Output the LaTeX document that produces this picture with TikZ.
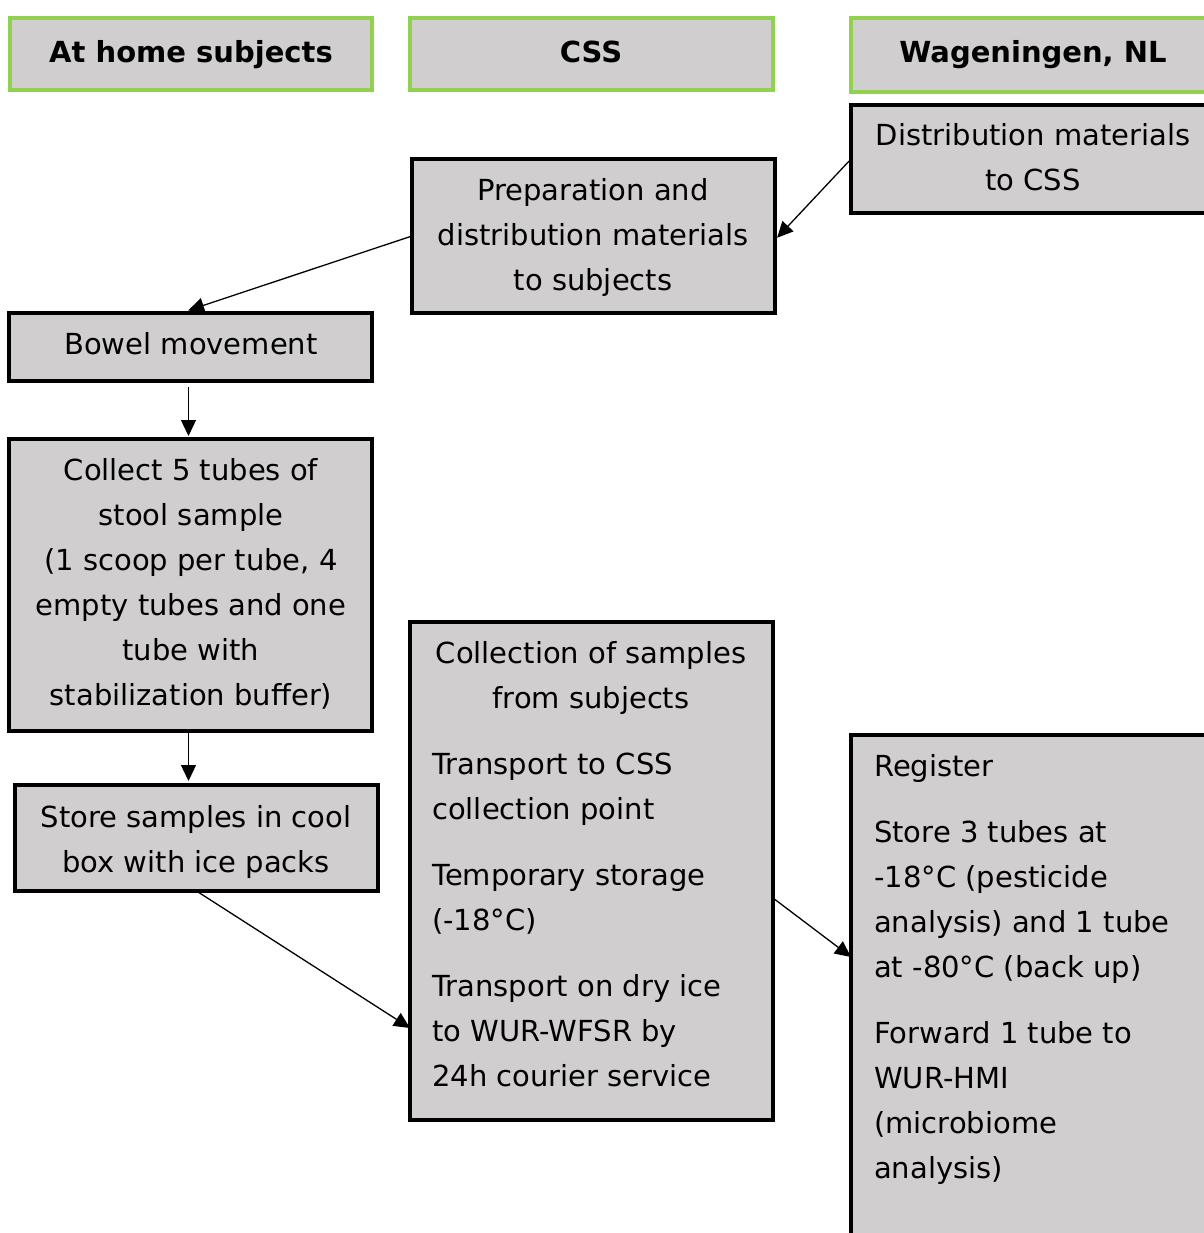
\documentclass[tikz,border=0pt]{standalone}
\usepackage{fontspec}
\setmainfont{DejaVu Sans}
\usetikzlibrary{arrows.meta}
\definecolor{boxgray}{HTML}{D0CECE}
\definecolor{headgreen}{HTML}{92D050}
\newcommand\firstline{\rule{0pt}{24pt}}
\tikzset{
  panel/.style={draw=black, line width=3.5pt, fill=boxgray, anchor=north west, inner sep=0pt, outer sep=0pt},
  header/.style={panel, draw=headgreen},
  txt/.style={inner sep=0pt, font=\fontsize{29}{45}\selectfont, align=center, anchor=north},
  ltxt/.style={txt, align=left, anchor=north west},
  htxt/.style={txt, font=\fontsize{29}{45}\selectfont\bfseries},
  flow/.style={line width=1.3pt, -{Triangle[length=16pt,width=15pt]}}
}
\begin{document}
\begin{tikzpicture}[x=1pt, y=-1pt]
\useasboundingbox (0,0) rectangle (1203,1233);

% column headers
\node[header, minimum width=362pt, minimum height=72pt] (hhome) at (10,18) {};
\node[header, minimum width=363pt, minimum height=72pt] (hcss) at (410,18) {};
\node[header, minimum width=370pt, minimum height=74pt] (hwag) at (851,18) {};
\node[htxt] (thome) at (191,62-24) {\firstline At home subjects};
\node[htxt] (tcss) at (591,62-24) {\firstline CSS};
\node[htxt] (twag) at (1033,62-24) {\firstline Wageningen, NL};

% process boxes
\node[panel, minimum width=370pt, minimum height=108pt] (dist) at (851,105) {};
\node[panel, minimum width=363pt, minimum height=154pt] (prep) at (412,159) {};
\node[panel, minimum width=363pt, minimum height=68pt] (bowel) at (9,313) {};
\node[panel, minimum width=363pt, minimum height=292pt] (collect) at (9,439) {};
\node[panel, minimum width=363pt, minimum height=106pt] (store) at (15,785) {};
\node[panel, minimum width=363pt, minimum height=498pt] (collection) at (410,622) {};
\node[panel, minimum width=370pt, minimum height=520pt] (register) at (851,735) {};

% box texts
\node[txt] (tdist) at (1033,145-24) {\firstline Distribution materials\\to CSS};
\node[txt] (tprep) at (593,200-24) {\firstline Preparation and\\distribution materials\\to subjects};
\node[txt] (tbowel) at (191,354-24) {\firstline Bowel movement};
\node[txt] (tcollect) at (191,480-24) {\firstline Collect 5 tubes of\\stool sample\\(1 scoop per tube, 4\\empty tubes and one\\tube with\\stabilization buffer)};
\node[txt] (tstore) at (196,827-24) {\firstline Store samples in cool\\box with ice packs};
\node[txt] (tcol1) at (591,663-24) {\firstline Collection of samples\\from subjects};
\node[ltxt] (tcol2) at (432,774-24) {\firstline Transport to CSS\\collection point};
\node[ltxt] (tcol3) at (432,885-24) {\firstline Temporary storage\\(-18°C)};
\node[ltxt] (tcol4) at (432,996-24) {\firstline Transport on dry ice\\to WUR-WFSR by\\24h courier service};
\node[ltxt] (treg1) at (874,776-24) {\firstline Register};
\node[ltxt] (treg2) at (874,842-24) {\firstline Store 3 tubes at\\-18°C (pesticide\\analysis) and 1 tube\\at -80°C (back up)};
\node[ltxt] (treg3) at (874,1043-24) {\firstline Forward 1 tube to\\WUR-HMI\\(microbiome\\analysis)};

% connectors
\draw[flow, shorten <=3pt, shorten >=3pt] (dist.west) -- ([yshift=-4pt]prep.east);
\draw[flow, shorten >=8pt] (prep.west) -- ([xshift=-10pt]bowel.north);
\draw[flow, shorten <=6pt, shorten >=3pt] ([xshift=-2pt]bowel.south) -- ([xshift=-2pt]collect.north);
\draw[flow, shorten <=2pt, shorten >=4pt] ([xshift=-2pt]collect.south) -- ([xshift=-2pt]collect.south |- store.north);
\draw[flow, shorten <=2pt] (store.south) -- ([yshift=-406pt]collection.north west);
\draw[flow, shorten <=2pt] ([yshift=-276pt]collection.north east) -- ([yshift=-222pt]register.north west);
\end{tikzpicture}
\end{document}
